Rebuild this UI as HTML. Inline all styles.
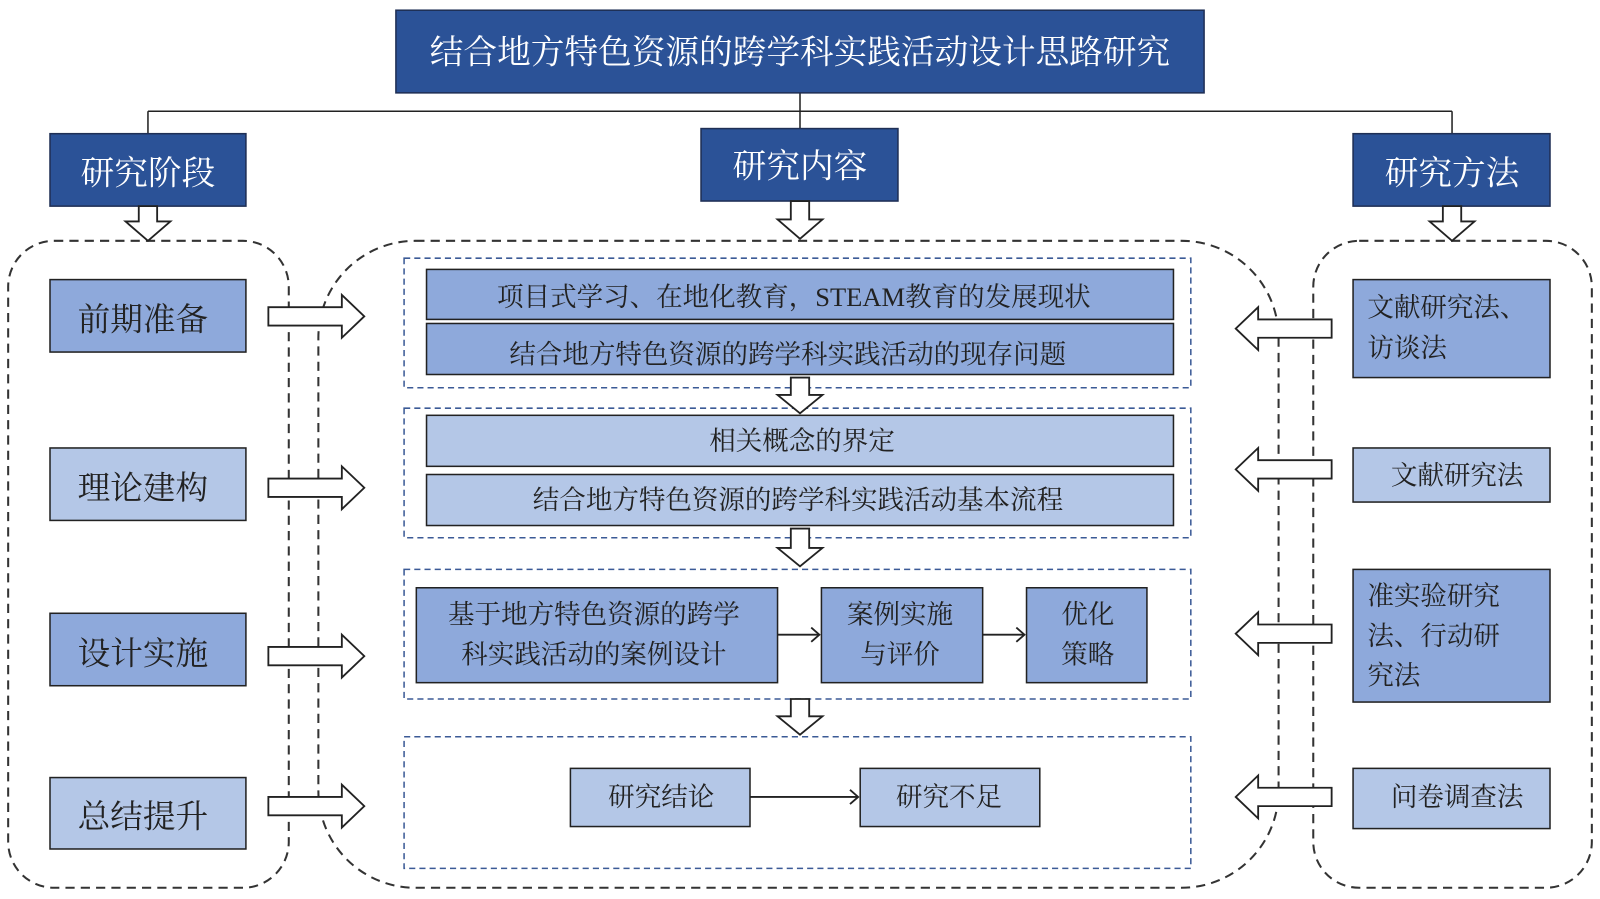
<!DOCTYPE html>
<html><head><meta charset="utf-8"><style>
html,body{margin:0;padding:0;background:#fff;}
svg{display:block;}
text{font-family:"Liberation Serif","Noto Serif CJK SC",serif;fill:#222;}
.w{fill:#fff;}
</style></head><body>
<svg width="1600" height="899" viewBox="0 0 1568 881" xmlns="http://www.w3.org/2000/svg">
<g stroke="#222" stroke-width="1.5">
<!-- connectors -->
<line x1="784" y1="91" x2="784" y2="126"/>
<line x1="145" y1="109" x2="1423" y2="109"/>
<line x1="145" y1="109" x2="145" y2="131"/>
<line x1="1423" y1="109" x2="1423" y2="131"/>
</g>
<!-- title & headers -->
<g stroke="#1f2f55" stroke-width="1.5" fill="#2B5297">
<rect x="388" y="10" width="792" height="81"/>
<rect x="49" y="131" width="192" height="71"/>
<rect x="687" y="126" width="193" height="71"/>
<rect x="1326" y="131" width="193" height="71"/>
</g>
<g font-size="33" text-anchor="middle">
<text class="w" x="784" y="62">结合地方特色资源的跨学科实践活动设计思路研究</text>
<text class="w" x="145" y="181">研究阶段</text>
<text class="w" x="784" y="174">研究内容</text>
<text class="w" x="1423" y="181">研究方法</text>
</g>
<!-- dashed containers -->
<g fill="none" stroke="#333" stroke-width="2" stroke-dasharray="9,6">
<rect x="8" y="236" width="275" height="634" rx="45"/>
<rect x="312" y="236" width="941" height="634" rx="95"/>
<rect x="1287" y="236" width="273" height="634" rx="45"/>
</g>
<g fill="none" stroke="#3b5a96" stroke-width="1.5" stroke-dasharray="6,4">
<rect x="396" y="253" width="771" height="127"/>
<rect x="396" y="400" width="771" height="127"/>
<rect x="396" y="558" width="771" height="127"/>
<rect x="396" y="722" width="771" height="129"/>
</g>
<!-- boxes -->
<g stroke="#222" stroke-width="1.5">
<rect x="49" y="274" width="192" height="71" fill="#8EA9DB"/>
<rect x="49" y="439" width="192" height="71" fill="#B4C7E7"/>
<rect x="49" y="601" width="192" height="71" fill="#8EA9DB"/>
<rect x="49" y="762" width="192" height="70" fill="#B4C7E7"/>
<rect x="418" y="264" width="732" height="49" fill="#8EA9DB"/>
<rect x="418" y="317" width="732" height="50" fill="#8EA9DB"/>
<rect x="418" y="407" width="732" height="50" fill="#B4C7E7"/>
<rect x="418" y="465" width="732" height="50" fill="#B4C7E7"/>
<rect x="408" y="576" width="354" height="93" fill="#8EA9DB"/>
<rect x="805" y="576" width="158" height="93" fill="#8EA9DB"/>
<rect x="1006" y="576" width="118" height="93" fill="#8EA9DB"/>
<rect x="559" y="753" width="176" height="57" fill="#B4C7E7"/>
<rect x="843" y="753" width="176" height="57" fill="#B4C7E7"/>
<rect x="1326" y="274" width="193" height="96" fill="#8EA9DB"/>
<rect x="1326" y="439" width="193" height="53" fill="#B4C7E7"/>
<rect x="1326" y="558" width="193" height="130" fill="#8EA9DB"/>
<rect x="1326" y="753" width="193" height="59" fill="#B4C7E7"/>
</g>
<!-- small arrows -->
<g stroke="#222" stroke-width="1.8" fill="none">
<line x1="762" y1="622" x2="803" y2="622"/><polyline points="795,615 803,622 795,629"/>
<line x1="963" y1="622" x2="1004" y2="622"/><polyline points="996,615 1004,622 996,629"/>
<line x1="735" y1="781" x2="841" y2="781"/><polyline points="833,774 841,781 833,788"/>
</g>
<!-- hollow arrows -->
<g fill="#fff" stroke="#222" stroke-width="1.8">
<!-- down -->
<polygon points="136,202 154,202 154,217 167,217 145,236 123,217 136,217"/>
<polygon points="775,197 793,197 793,215 806,215 784,234 762,215 775,215"/>
<polygon points="1414,202 1432,202 1432,217 1445,217 1423,236 1401,217 1414,217"/>
<polygon points="775,370 793,370 793,387 806,387 784,405 762,387 775,387"/>
<polygon points="775,518 793,518 793,537 806,537 784,555 762,537 775,537"/>
<polygon points="775,685 793,685 793,702 806,702 784,720 762,702 775,702"/>
<!-- right -->
<polygon points="263,301 335,301 335,289 357,310 335,331 335,319 263,319"/>
<polygon points="263,469 335,469 335,457 357,478 335,499 335,487 263,487"/>
<polygon points="263,634 335,634 335,622 357,643 335,664 335,652 263,652"/>
<polygon points="263,781 335,781 335,769 357,790 335,811 335,799 263,799"/>
<!-- left -->
<polygon points="1305,313 1233,313 1233,301 1211,322 1233,343 1233,331 1305,331"/>
<polygon points="1305,451 1233,451 1233,439 1211,460 1233,481 1233,469 1305,469"/>
<polygon points="1305,612 1233,612 1233,600 1211,621 1233,642 1233,630 1305,630"/>
<polygon points="1305,772 1233,772 1233,760 1211,781 1233,802 1233,790 1305,790"/>
</g>
<!-- texts -->
<g font-size="32" text-anchor="middle">
<text x="140" y="324">前期准备</text>
<text x="140" y="489">理论建构</text>
<text x="140" y="651">设计实施</text>
<text x="140" y="811">总结提升</text>
</g>
<g font-size="26" text-anchor="middle">
<text x="778" y="300">项目式学习、在地化教育，STEAM教育的发展现状</text>
<text x="772" y="356">结合地方特色资源的跨学科实践活动的现存问题</text>
<text x="786" y="441">相关概念的界定</text>
<text x="782" y="499">结合地方特色资源的跨学科实践活动基本流程</text>
<text x="582" y="611">基于地方特色资源的跨学</text>
<text x="582" y="650">科实践活动的案例设计</text>
<text x="882" y="611">案例实施</text>
<text x="882" y="650">与评价</text>
<text x="1066" y="611">优化</text>
<text x="1066" y="650">策略</text>
<text x="648" y="790">研究结论</text>
<text x="930" y="790">研究不足</text>
<text x="1428" y="475">文献研究法</text>
<text x="1428" y="790">问卷调查法</text>
</g>
<g font-size="26">
<text x="1340" y="310">文献研究法、</text>
<text x="1340" y="350">访谈法</text>
<text x="1340" y="593">准实验研究</text>
<text x="1340" y="632">法、行动研</text>
<text x="1340" y="671">究法</text>
</g>
</svg>
</body></html>
